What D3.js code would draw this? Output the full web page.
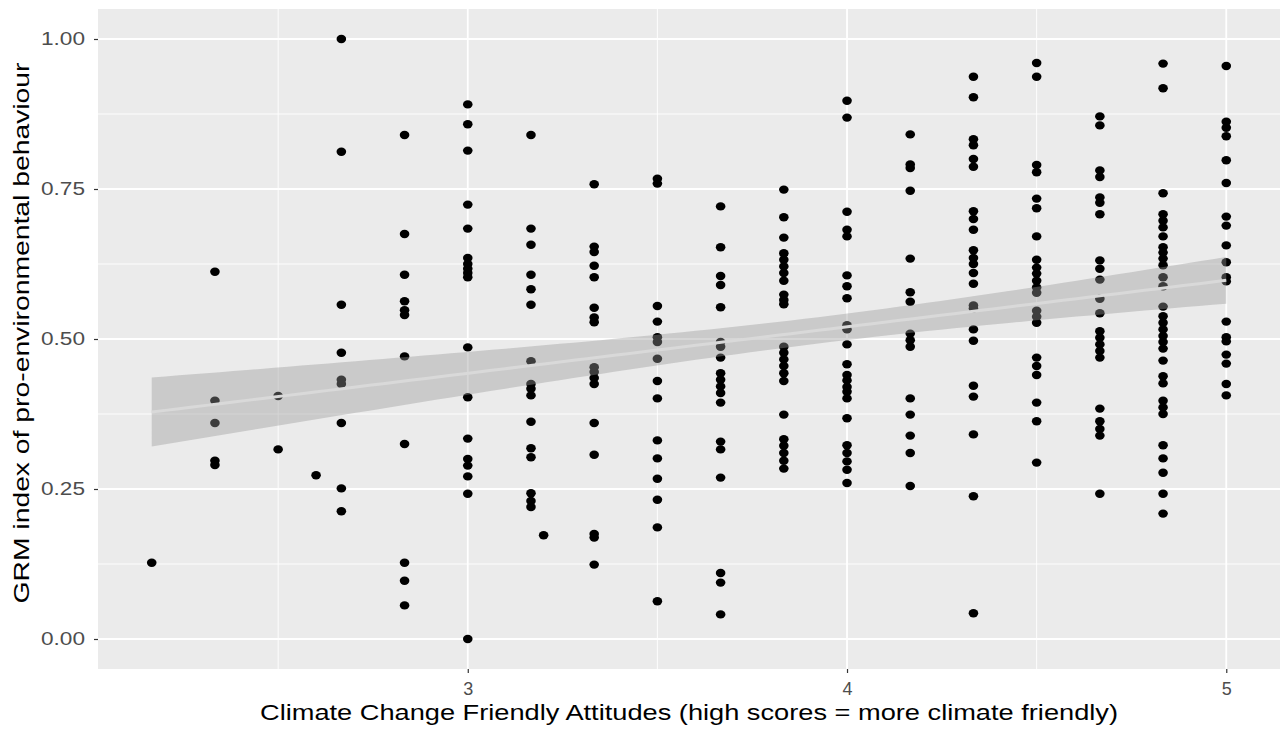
<!DOCTYPE html>
<html>
<head>
<meta charset="utf-8">
<script src="https://cdn.jsdelivr.net/npm/d3@7"></script>
<style>
  html, body { margin: 0; padding: 0; background: #ffffff; }
  svg { display: block; }
  text { font-family: "Liberation Sans", Arial, sans-serif; }
</style>
</head>
<body>
<svg id="chart" width="1284" height="741"></svg>
<script>
// Attitude score levels (x) and the GRM index values observed at each level (y)
const grm_2_17 = [0.127];
const grm_2_33 = [0.612, 0.397, 0.360, 0.297, 0.290];
const grm_2_50 = [0.405, 0.316];
const grm_2_60 = [0.273];
const grm_2_67 = [1.000, 0.812, 0.557, 0.477, 0.432, 0.425, 0.360, 0.251, 0.213];
const grm_2_83 = [0.840, 0.675, 0.607, 0.563, 0.548, 0.540, 0.471, 0.325, 0.127, 0.097, 0.056];
const grm_3_00 = [0.891, 0.858, 0.814, 0.724, 0.684, 0.635, 0.625, 0.617, 0.610, 0.603, 0.486, 0.403, 0.334, 0.300, 0.289, 0.271, 0.242, 0.000];
const grm_3_17 = [0.840, 0.684, 0.657, 0.607, 0.583, 0.557, 0.463, 0.425, 0.417, 0.406, 0.362, 0.318, 0.303, 0.243, 0.230, 0.220];
const grm_3_20 = [0.173];
const grm_3_33 = [0.758, 0.654, 0.645, 0.622, 0.603, 0.552, 0.536, 0.528, 0.453, 0.445, 0.435, 0.425, 0.360, 0.307, 0.175, 0.169, 0.124];
const grm_3_50 = [0.767, 0.759, 0.555, 0.529, 0.503, 0.495, 0.467, 0.430, 0.401, 0.331, 0.301, 0.267, 0.232, 0.186, 0.063];
const grm_3_67 = [0.721, 0.653, 0.605, 0.590, 0.553, 0.495, 0.487, 0.469, 0.443, 0.432, 0.421, 0.410, 0.394, 0.329, 0.316, 0.269, 0.110, 0.094, 0.041];
const grm_3_83 = [0.749, 0.703, 0.669, 0.643, 0.632, 0.621, 0.610, 0.597, 0.574, 0.565, 0.558, 0.487, 0.477, 0.466, 0.455, 0.443, 0.430, 0.374, 0.333, 0.322, 0.310, 0.297, 0.284];
const grm_4_00 = [0.897, 0.869, 0.712, 0.682, 0.671, 0.606, 0.588, 0.568, 0.523, 0.516, 0.491, 0.458, 0.440, 0.431, 0.420, 0.412, 0.401, 0.368, 0.323, 0.310, 0.296, 0.282, 0.260];
const grm_4_17 = [0.841, 0.791, 0.785, 0.747, 0.634, 0.578, 0.562, 0.509, 0.498, 0.487, 0.401, 0.374, 0.339, 0.310, 0.255];
const grm_4_33 = [0.937, 0.903, 0.833, 0.823, 0.800, 0.787, 0.713, 0.700, 0.682, 0.648, 0.635, 0.625, 0.610, 0.592, 0.556, 0.551, 0.516, 0.497, 0.422, 0.404, 0.341, 0.238, 0.043];
const grm_4_50 = [0.960, 0.937, 0.790, 0.778, 0.734, 0.718, 0.671, 0.632, 0.619, 0.609, 0.597, 0.586, 0.577, 0.547, 0.537, 0.527, 0.469, 0.455, 0.440, 0.394, 0.363, 0.294];
const grm_4_67 = [0.871, 0.856, 0.781, 0.770, 0.736, 0.727, 0.708, 0.631, 0.617, 0.599, 0.567, 0.543, 0.513, 0.502, 0.491, 0.480, 0.469, 0.384, 0.363, 0.350, 0.339, 0.242];
const grm_4_83 = [0.959, 0.918, 0.743, 0.708, 0.697, 0.686, 0.671, 0.653, 0.644, 0.634, 0.623, 0.603, 0.588, 0.554, 0.538, 0.527, 0.516, 0.505, 0.495, 0.484, 0.464, 0.438, 0.426, 0.397, 0.386, 0.375, 0.323, 0.301, 0.277, 0.242, 0.209];
const grm_5_00 = [0.955, 0.862, 0.852, 0.838, 0.798, 0.760, 0.704, 0.689, 0.656, 0.628, 0.603, 0.596, 0.529, 0.503, 0.496, 0.474, 0.459, 0.425, 0.406];

const attitudeLevels = [13/6, 14/6, 15/6, 2.6, 16/6, 17/6, 3, 19/6, 3.2, 20/6, 21/6, 22/6, 23/6, 4, 25/6, 26/6, 27/6, 28/6, 29/6, 5];
const grmByLevel = [grm_2_17, grm_2_33, grm_2_50, grm_2_60, grm_2_67, grm_2_83, grm_3_00, grm_3_17, grm_3_20, grm_3_33,
                    grm_3_50, grm_3_67, grm_3_83, grm_4_00, grm_4_17, grm_4_33, grm_4_50, grm_4_67, grm_4_83, grm_5_00];

const xTicks = [3, 4, 5];
const xTickLabels = ["3", "4", "5"];
const yTicks = [0, 0.25, 0.5, 0.75, 1];
const yTickLabels = ["0.00", "0.25", "0.50", "0.75", "1.00"];
const xMinor = [2.5, 3.5, 4.5];
const yMinor = [0.125, 0.375, 0.625, 0.875];

const xTitle = "Climate Change Friendly Attitudes (high scores = more climate friendly)";
const yTitle = "GRM index of pro-environmental behaviour";

// Flatten into (x, y) observations
const points = [];
attitudeLevels.forEach((lvl, i) => grmByLevel[i].forEach(v => points.push({ x: lvl, y: v })));

// Panel geometry
const panel = { left: 98, right: 1280, top: 9, bottom: 669 };
const svg = d3.select("#chart");

const xExt = d3.extent(points, d => d.x);
const xPad = (xExt[1] - xExt[0]) * 0.05;
const x = d3.scaleLinear().domain([xExt[0] - xPad, xExt[1] + xPad]).range([panel.left, panel.right]);
const y = d3.scaleLinear().domain([-0.05, 1.05]).range([panel.bottom, panel.top]);

// Linear model with 95% confidence band
const n = points.length;
const mx = d3.mean(points, d => d.x), my = d3.mean(points, d => d.y);
const sxx = d3.sum(points, d => (d.x - mx) ** 2);
const sxy = d3.sum(points, d => (d.x - mx) * (d.y - my));
const slope = sxy / sxx, intercept = my - slope * mx;
const rss = d3.sum(points, d => (d.y - intercept - slope * d.x) ** 2);
const sigma = Math.sqrt(rss / (n - 2));
const tCrit = 1.969;
const fitGrid = d3.range(80).map(i => xExt[0] + (xExt[1] - xExt[0]) * i / 79);
const fit = fitGrid.map(gx => {
  const f = intercept + slope * gx;
  const se = sigma * Math.sqrt(1 / n + (gx - mx) ** 2 / sxx);
  return { x: gx, y: f, lo: f - tCrit * se, hi: f + tCrit * se };
});

// Panel background and grid
svg.append("rect")
  .attr("x", panel.left).attr("y", panel.top)
  .attr("width", panel.right - panel.left).attr("height", panel.bottom - panel.top)
  .attr("fill", "#ebebeb");

const grid = svg.append("g");
grid.selectAll(".ymin").data(yMinor).join("line")
  .attr("x1", panel.left).attr("x2", panel.right)
  .attr("y1", d => y(d)).attr("y2", d => y(d))
  .attr("stroke", "#ffffff").attr("stroke-width", 0.9);
grid.selectAll(".xmin").data(xMinor).join("line")
  .attr("y1", panel.top).attr("y2", panel.bottom)
  .attr("x1", d => x(d)).attr("x2", d => x(d))
  .attr("stroke", "#ffffff").attr("stroke-width", 0.9);
grid.selectAll(".ymaj").data(yTicks).join("line")
  .attr("x1", panel.left).attr("x2", panel.right)
  .attr("y1", d => y(d)).attr("y2", d => y(d))
  .attr("stroke", "#ffffff").attr("stroke-width", 1.8);
grid.selectAll(".xmaj").data(xTicks).join("line")
  .attr("y1", panel.top).attr("y2", panel.bottom)
  .attr("x1", d => x(d)).attr("x2", d => x(d))
  .attr("stroke", "#ffffff").attr("stroke-width", 1.8);

// Points
svg.append("g").selectAll("ellipse").data(points).join("ellipse")
  .attr("cx", d => x(d.x)).attr("cy", d => y(d.y))
  .attr("rx", 4.8).attr("ry", 4.2)
  .attr("fill", "#000000");

// Confidence band and fitted line
svg.append("path").datum(fit)
  .attr("d", d3.area().x(d => x(d.x)).y0(d => y(d.lo)).y1(d => y(d.hi)))
  .attr("fill", "#999999").attr("fill-opacity", 0.4);
svg.append("path").datum(fit)
  .attr("d", d3.line().x(d => x(d.x)).y(d => y(d.y)))
  .attr("fill", "none").attr("stroke", "#d9d9d9").attr("stroke-width", 3);

// Axes
const xAxis = svg.append("g").attr("transform", `translate(0,${panel.bottom})`)
  .call(d3.axisBottom(x).tickValues(xTicks).tickFormat((d, i) => xTickLabels[i]).tickSize(4).tickPadding(9));
const yAxis = svg.append("g").attr("transform", `translate(${panel.left},0)`)
  .call(d3.axisLeft(y).tickValues(yTicks).tickFormat((d, i) => yTickLabels[i]).tickSize(4).tickPadding(9));
[xAxis, yAxis].forEach(a => {
  a.select(".domain").remove();
  a.selectAll(".tick line").attr("stroke", "#333333").attr("stroke-width", 1.2);
  a.selectAll(".tick text").attr("fill", "#4d4d4d").style("font-size", "18px");
});
yAxis.selectAll(".tick text").attr("textLength", 44).attr("lengthAdjust", "spacingAndGlyphs");

// Axis titles
svg.append("text")
  .attr("x", (panel.left + panel.right) / 2).attr("y", 720)
  .attr("text-anchor", "middle").attr("fill", "#000000")
  .style("font-size", "22px")
  .attr("textLength", 858).attr("lengthAdjust", "spacingAndGlyphs")
  .text(xTitle);
svg.append("text")
  .attr("transform", `translate(29,${(panel.top + panel.bottom) / 2 - 6}) rotate(-90)`)
  .attr("text-anchor", "middle").attr("fill", "#000000")
  .style("font-size", "22px")
  .attr("textLength", 541).attr("lengthAdjust", "spacingAndGlyphs")
  .text(yTitle);
</script>
</body>
</html>
